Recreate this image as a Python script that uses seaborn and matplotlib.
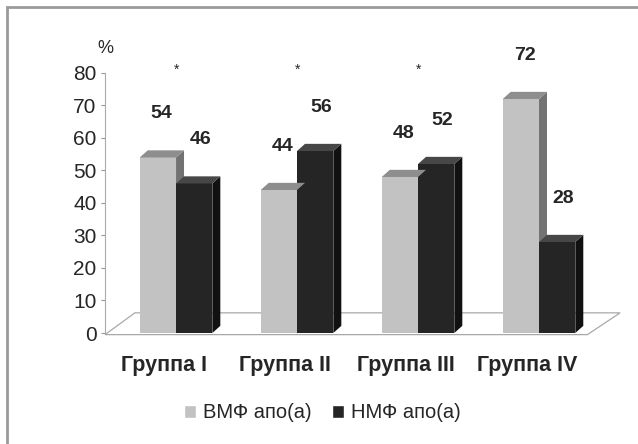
import numpy as np
import pandas as pd
import seaborn as sns
import matplotlib.pyplot as plt
from matplotlib.patches import Polygon, Rectangle

# === Data ===
groups = ["Группа I", "Группа II", "Группа III", "Группа IV"]
series = ["ВМФ апо(а)", "НМФ апо(а)"]
vmf = [54, 44, 48, 72]
nmf = [46, 56, 52, 28]
signif = ["*", "*", "*", ""]

df = pd.DataFrame({
    "group": groups * 2,
    "series": [series[0]] * 4 + [series[1]] * 4,
    "value": vmf + nmf,
})

# === Style ===
sns.set_style("white")
plt.rcParams["font.family"] = ["Liberation Sans", "DejaVu Sans"]

front = {series[0]: "#c2c2c2", series[1]: "#252525"}
top = {series[0]: "#8e8e8e", series[1]: "#474747"}
side = {series[0]: "#727272", series[1]: "#111111"}

fig = plt.figure(figsize=(6.38, 4.44), dpi=100)
ax = fig.add_axes([0.1646, 0.25, 0.813, 0.5856])

sns.barplot(data=df, x="group", y="value", hue="series", palette=front,
            width=0.6, gap=0, saturation=1, ax=ax, legend=False,
            edgecolor="none")

ax.set_ylim(0, 80)
ax.set_xlim(-0.587, 3.7)

# fake depth for the 3D look
dx, dy = 0.066, 2.2
ser_of_patch = [series[0]] * 4 + [series[1]] * 4
for p, s in zip(ax.patches, ser_of_patch):
    x0, w, h = p.get_x(), p.get_width(), p.get_height()
    x1 = x0 + w
    ax.add_patch(Polygon([(x0, h), (x1, h), (x1 + dx, h + dy), (x0 + dx, h + dy)],
                         closed=True, fc=top[s], ec="none", zorder=p.get_zorder()))
    ax.add_patch(Polygon([(x1, 0), (x1 + dx, dy), (x1 + dx, h + dy), (x1, h)],
                         closed=True, fc=side[s], ec="none", zorder=p.get_zorder() - 0.1))

# floor
ax.add_patch(Polygon([(-0.587, -0.5), (3.4, -0.5), (3.67, 6.2), (-0.34, 6.2)], closed=True,
                     fc="none", ec="#a8a8a8", lw=0.9, zorder=0.5, clip_on=False))

# value labels
for i in range(len(groups)):
    ax.text(i - 0.12, vmf[i] + 13.5, str(vmf[i]), ha="center", va="center",
            fontsize=14, fontweight="bold")
    ax.text(i + 0.2, nmf[i] + 13.5, str(nmf[i]), ha="center", va="center",
            fontsize=14, fontweight="bold")
    if signif[i]:
        ax.text(i, 81, signif[i], ha="center", va="center", fontsize=10)

ax.set_xlabel("")
ax.set_ylabel("")
ax.set_yticks(range(0, 81, 10))
ax.set_xticks([i - 0.1 for i in range(len(groups))], groups)
ax.tick_params(axis="y", labelsize=15, length=3, color="#999999", left=True, pad=3)
ax.tick_params(axis="x", labelsize=15.5, length=0, pad=16)
for lab in ax.get_xticklabels():
    lab.set_fontweight("bold")
for sp in ["top", "right", "bottom"]:
    ax.spines[sp].set_visible(False)
ax.spines["left"].set_color("#aaaaaa")
ax.spines["left"].set_linewidth(0.8)

ax.text(0.0, 1.095, "%", transform=ax.transAxes, fontsize=13, ha="center", va="center")

# legend
handles = [Rectangle((0, 0), 1, 1, fc=front[s]) for s in series]
fig.legend(handles, series, loc="center", bbox_to_anchor=(0.505, 0.07), ncol=2,
           frameon=False, fontsize=14.5, handlelength=0.6, handleheight=0.6,
           handletextpad=0.35, columnspacing=1.0)

# outer frame
fig.patches.append(Rectangle((0.011, -0.01), 1.0, 0.995, transform=fig.transFigure,
                             fill=False, ec="#9a9a9a", lw=2))

fig.savefig("out.png", dpi=100)
